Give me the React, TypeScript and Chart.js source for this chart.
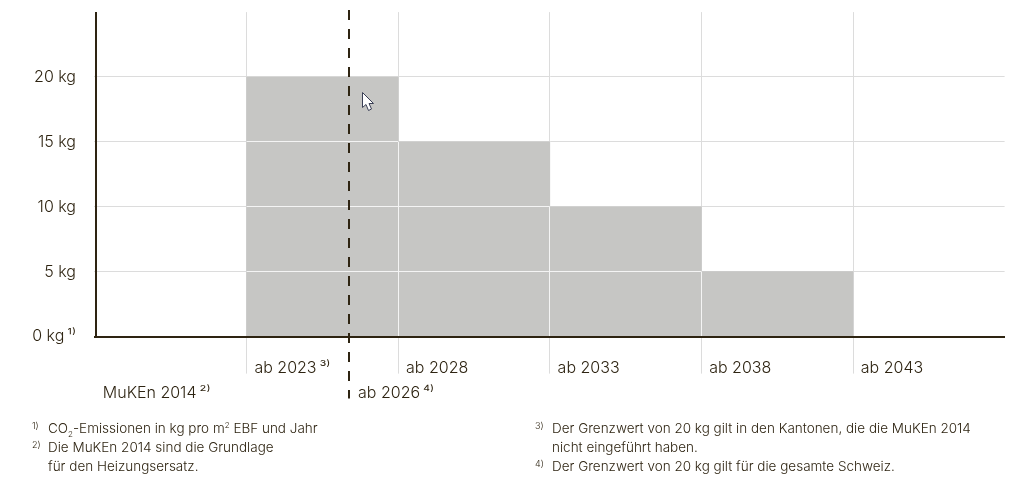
import React, { useEffect, useRef } from "react";
import { Chart, registerables } from "chart.js";

Chart.register(...registerables);

const categories = [["", "MuKEn 2014\u2009²⁾"], "ab 2023\u2009³⁾", "ab 2028", "ab 2033", "ab 2038", "ab 2043"];
const limitValues = [null, 20, 15, 10, 5, null];
const yTickValues = [0, 5, 10, 15, 20];
const yMax = 25;
const yTickSuffix: Record<number, string> = { 0: "\u2009¹⁾" };
const markerPosition = 1.175;
const markerLabel = "ab 2026\u2009⁴⁾";

const INK = "#2e2412";
const GRID = "#dcdcdc";
const BAR = "#c6c6c4";
const FONT = "Inter, sans-serif";
const WEIGHT = 300;

const overlay = {
  id: "overlay",
  afterDatasetsDraw(chart: any) {
    const { ctx, scales } = chart;
    const y = scales.y;
    const meta = chart.getDatasetMeta(0);
    ctx.save();
    ctx.strokeStyle = "#f4f4f4";
    ctx.lineWidth = 1;
    meta.data.forEach((bar: any, i: number) => {
      if (limitValues[i] == null) return;
      const left = bar.x - bar.width / 2;
      const right = bar.x + bar.width / 2;
      yTickValues.forEach((v) => {
        if (v === 0 || v >= (limitValues[i] as number)) return;
        const py = Math.round(y.getPixelForValue(v) - 0.5) + 0.5;
        ctx.beginPath();
        ctx.moveTo(left, py);
        ctx.lineTo(right, py);
        ctx.stroke();
      });
      if (i > 1) {
        const px = Math.round(left - 0.5) + 0.5;
        ctx.beginPath();
        ctx.moveTo(px, y.getPixelForValue(limitValues[i] as number));
        ctx.lineTo(px, y.getPixelForValue(0));
        ctx.stroke();
      }
    });
    ctx.restore();
  },
  afterDraw(chart: any) {
    const { ctx, scales, chartArea } = chart;
    const px = Math.round(scales.x.getPixelForValue(markerPosition));
    ctx.save();
    ctx.strokeStyle = INK;
    ctx.lineWidth = 2;
    ctx.beginPath();
    ctx.moveTo(Math.round(chartArea.left) + 1, chartArea.top);
    ctx.lineTo(Math.round(chartArea.left) + 1, chartArea.bottom);
    ctx.stroke();
    ctx.setLineDash([10, 9]);
    ctx.beginPath();
    ctx.moveTo(px, chartArea.top - 2);
    ctx.lineTo(px, chartArea.bottom + 62);
    ctx.stroke();
    ctx.fillStyle = INK;
    ctx.font = `${WEIGHT} 16px ${FONT}`;
    ctx.textBaseline = "alphabetic";
    ctx.fillText(markerLabel, px + 9, chartArea.bottom + 61);
    ctx.restore();
  },
};

const noteStyle = (left: number, top: number): React.CSSProperties => ({
  position: "absolute",
  left,
  top,
  font: `${WEIGHT} 13.5px/16px ${FONT}`,
  color: INK,
  whiteSpace: "nowrap",
});
const mark = { fontSize: 9, verticalAlign: 4, lineHeight: 0 } as React.CSSProperties;

const stripPadding = (s: any) => {
  s.paddingTop = 0;
  s.paddingBottom = 0;
  s.paddingLeft = 0;
  s.paddingRight = 0;
};

export default function App() {
  const ref = useRef<HTMLCanvasElement>(null);
  useEffect(() => {
    const chart = new Chart(ref.current!, {
      type: "bar",
      data: {
        labels: categories as any,
        datasets: [
          {
            data: limitValues as any,
            backgroundColor: BAR,
            categoryPercentage: 1,
            barPercentage: 1,
            borderWidth: 0,
          },
        ],
      },
      plugins: [overlay],
      options: {
        animation: false,
        responsive: false,
        events: [],
        layout: { padding: { top: 12.1, right: 27.4 } },
        plugins: { legend: { display: false }, tooltip: { enabled: false } },
        scales: {
          x: {
            type: "category",
            offset: true,
            afterFit: (s: any) => {
              s.height = 148.4;
              stripPadding(s);
            },
            grid: {
              offset: true,
              tickLength: 37,
              color: (c: any) => (c.index === undefined || c.index === 0 ? "transparent" : GRID),
              tickColor: (c: any) => (c.index === undefined || c.index === 0 ? "transparent" : GRID),
            },
            border: { color: INK, width: 2, z: 1 },
            ticks: {
              align: "start",
              labelOffset: -68,
              padding: -18,
              maxRotation: 0,
              autoSkip: false,
              color: INK,
              font: { family: FONT, size: 16, weight: WEIGHT, lineHeight: 25 / 16 },
            },
          },
          y: {
            min: 0,
            max: yMax,
            afterFit: (s: any) => {
              s.width = 95;
              stripPadding(s);
            },
            grid: {
              tickLength: 0,
              color: (c: any) => (c.tick && c.tick.value === yMax ? "transparent" : GRID),
            },
            border: { color: "transparent", width: 2 },
            ticks: {
              stepSize: 5,
              padding: 19,
              color: INK,
              font: { family: FONT, size: 16, weight: WEIGHT },
              callback: (v: any) =>
                yTickValues.includes(v) ? `${v} kg${yTickSuffix[v] ?? ""}` : "",
            },
          },
        },
      },
    } as any);
    return () => chart.destroy();
  }, []);

  return (
    <div style={{ position: "absolute", left: 0, top: 0, width: 1032, height: 485, background: "#fff", overflow: "hidden" }}>
      <canvas ref={ref} width={1032} height={485} style={{ display: "block" }} />
      <svg style={{ position: "absolute", left: 360, top: 90 }} width={18} height={24}>
        <path d="M2.5 2.5 L2.5 17.5 L6 14.5 L8.5 20.5 L11.5 19 L9 13.5 L13.5 13.5 Z" fill="#fff" stroke="#3a3f55" strokeWidth={1} />
      </svg>
      <div style={noteStyle(32, 420)}><span style={mark}>1)</span></div>
      <div style={noteStyle(48, 420)}>CO<sub style={{ fontSize: 8, lineHeight: 0 }}>2</sub>-Emissionen in kg pro m<sup style={{ fontSize: 8, lineHeight: 0 }}>2</sup> EBF und Jahr</div>
      <div style={noteStyle(32, 439)}><span style={mark}>2)</span></div>
      <div style={noteStyle(48, 439)}>Die MuKEn 2014 sind die Grundlage</div>
      <div style={noteStyle(48, 458)}>für den Heizungsersatz.</div>
      <div style={noteStyle(535, 420)}><span style={mark}>3)</span></div>
      <div style={noteStyle(552, 420)}>Der Grenzwert von 20 kg gilt in den Kantonen, die die MuKEn 2014</div>
      <div style={noteStyle(552, 439)}>nicht eingeführt haben.</div>
      <div style={noteStyle(535, 458)}><span style={mark}>4)</span></div>
      <div style={noteStyle(552, 458)}>Der Grenzwert von 20 kg gilt für die gesamte Schweiz.</div>
    </div>
  );
}
